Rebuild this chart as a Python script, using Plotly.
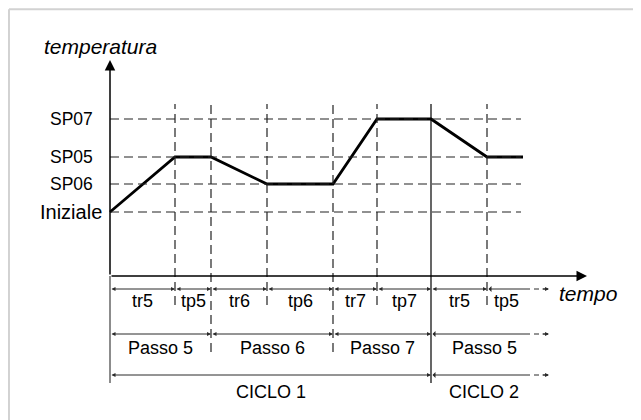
import plotly.graph_objects as go

# ---- data (time in arbitrary units, temperature in arbitrary units) ----
time_points = [0, 6.5, 10.1, 15.7, 22.3, 26.7, 32.1, 37.7, 41.3]
temp_profile = [6.4, 11.9, 11.9, 9.2, 9.2, 15.7, 15.7, 11.9, 11.9]
level_labels = ["Iniziale", "SP06", "SP05", "SP07"]
level_values = [6.4, 9.2, 11.9, 15.7]
phase_labels = ["tr5", "tp5", "tr6", "tp6", "tr7", "tp7", "tr5", "tp5"]
step_labels = ["Passo 5", "Passo 6", "Passo 7", "Passo 5"]
step_starts = [0, 10.1, 22.3, 32.1]
cycle_labels = ["CICLO 1", "CICLO 2"]
cycle_starts = [0, 32.1]

# ---- layout constants ----
GRID_TOP = 17.2
GRID_RIGHT = 41.1
Y_TIP = 21.6
X_TIP = 47.7
OPEN_SOLID = 41.5
OPEN_END = 43.9
ROW_Y = [-1.3, -5.8, -9.9]
ROW_TXT = [-2.5, -7.2, -11.6]
ROW_BOTTOM = [-2.9, -7.6, -10.7]
FONT = "Liberation Sans, Arial, Helvetica, sans-serif"
DIM_COLOR = "#2a2a2a"
GRID_COLOR = "#222222"
DASH = "9px,5px"

fig = go.Figure()
shapes = []
annotations = []

# horizontal dashed guides
for v in level_values:
    shapes.append(dict(type="line", xref="x", yref="y", x0=0, x1=GRID_RIGHT, y0=v, y1=v,
                       line=dict(color=GRID_COLOR, width=1.2, dash=DASH)))

# vertical guides
for t in time_points[1:-1]:
    if t in cycle_starts[1:]:
        shapes.append(dict(type="line", xref="x", yref="y", x0=t, x1=t, y0=ROW_BOTTOM[2], y1=GRID_TOP,
                           line=dict(color="black", width=1.2)))
    elif t in step_starts:
        shapes.append(dict(type="line", xref="x", yref="y", x0=t, x1=t, y0=ROW_BOTTOM[1], y1=GRID_TOP,
                           line=dict(color=GRID_COLOR, width=1.2, dash=DASH)))
    else:
        shapes.append(dict(type="line", xref="x", yref="y", x0=t, x1=t, y0=ROW_BOTTOM[0], y1=GRID_TOP,
                           line=dict(color=GRID_COLOR, width=1.2, dash=DASH)))

# y axis lower (gray) part
shapes.append(dict(type="line", xref="x", yref="y", x0=0, x1=0, y0=ROW_BOTTOM[2], y1=0,
                   line=dict(color="#666666", width=1.5)))

# outer light border (top and left)
shapes.append(dict(type="line", xref="paper", yref="paper", x0=0.0015, x1=1, y0=0.997, y1=0.997,
                   line=dict(color="#d2d2d2", width=2)))
shapes.append(dict(type="line", xref="paper", yref="paper", x0=0.0015, x1=0.0015, y0=0, y1=0.997,
                   line=dict(color="#d2d2d2", width=2)))

# main axes arrows
annotations.append(dict(x=0, y=Y_TIP, ax=0, ay=0, xref="x", yref="y", axref="x", ayref="y",
                        text="", showarrow=True, arrowhead=2, arrowsize=1.4, arrowwidth=1.5,
                        arrowcolor="black"))
annotations.append(dict(x=X_TIP, y=0, ax=0, ay=0, xref="x", yref="y", axref="x", ayref="y",
                        text="", showarrow=True, arrowhead=2, arrowsize=1.4, arrowwidth=1.5,
                        arrowcolor="black"))

annotations.append(dict(x=-1.0, y=23.0, xref="x", yref="y", text="<i>temperatura</i>",
                        showarrow=False, xanchor="center", yanchor="middle",
                        font=dict(family=FONT, size=21, color="black")))
annotations.append(dict(x=X_TIP + 0.1, y=-1.7, xref="x", yref="y", text="<i>tempo</i>",
                        showarrow=False, xanchor="center", yanchor="middle",
                        font=dict(family=FONT, size=21, color="black")))

# level labels
for lab, v in zip(level_labels, level_values):
    big = lab == "Iniziale"
    annotations.append(dict(x=-0.6 if big else -1.5, y=v, xref="x", yref="y", text=lab,
                            showarrow=False, xanchor="right", yanchor="middle",
                            font=dict(family=FONT, size=20 if big else 17.5, color="black")))


def dim_arrow(a, b, y):
    annotations.append(dict(x=b, y=y, ax=a, ay=y, xref="x", yref="y", axref="x", ayref="y",
                            text="", showarrow=True, arrowhead=2, arrowside="end+start",
                            arrowsize=0.8, arrowwidth=1, arrowcolor=DIM_COLOR))


def open_arrow(a, y):
    annotations.append(dict(x=OPEN_SOLID, y=y, ax=a, ay=y, xref="x", yref="y", axref="x", ayref="y",
                            text="", showarrow=True, arrowhead=2, arrowside="start",
                            arrowsize=0.8, arrowwidth=1, arrowcolor=DIM_COLOR))
    shapes.append(dict(type="line", xref="x", yref="y", x0=OPEN_SOLID, x1=OPEN_END, y0=y, y1=y,
                       line=dict(color=DIM_COLOR, width=1, dash="5px,4px")))
    annotations.append(dict(x=OPEN_END, y=y, ax=OPEN_END - 0.8, ay=y, xref="x", yref="y",
                            axref="x", ayref="y", text="", showarrow=True, arrowhead=2,
                            arrowsize=0.8, arrowwidth=1, arrowcolor=DIM_COLOR))


def label(text, x, y):
    annotations.append(dict(x=x, y=y, xref="x", yref="y", text=text, showarrow=False,
                            xanchor="center", yanchor="middle",
                            font=dict(family=FONT, size=18, color="black")))


def row(labels, starts, r):
    for i, lab in enumerate(labels):
        a = starts[i]
        if i + 1 < len(labels):
            b = starts[i + 1]
            dim_arrow(a, b, ROW_Y[r])
            label(lab, (a + b) / 2, ROW_TXT[r])
        else:
            open_arrow(a, ROW_Y[r])
            end = OPEN_SOLID if r == 0 else (OPEN_SOLID + OPEN_END) / 2
            label(lab, (a + end) / 2, ROW_TXT[r])


row(phase_labels, time_points[:len(phase_labels)], 0)
row(step_labels, step_starts, 1)
row(cycle_labels, cycle_starts, 2)

# temperature profile
fig.add_trace(go.Scatter(x=time_points, y=temp_profile, mode="lines",
                         line=dict(color="black", width=2.8), hoverinfo="skip",
                         showlegend=False))

# ranges compensate for the page's default 8px body margin
fig.update_layout(
    width=641, height=420,
    margin=dict(l=0, r=0, t=0, b=0),
    paper_bgcolor="white", plot_bgcolor="white",
    xaxis=dict(range=[-10.2, 53.9], visible=False, fixedrange=True),
    yaxis=dict(range=[-15.2, 26.8], visible=False, fixedrange=True),
    shapes=shapes, annotations=annotations,
    showlegend=False,
)

fig.write_html("out.html")
